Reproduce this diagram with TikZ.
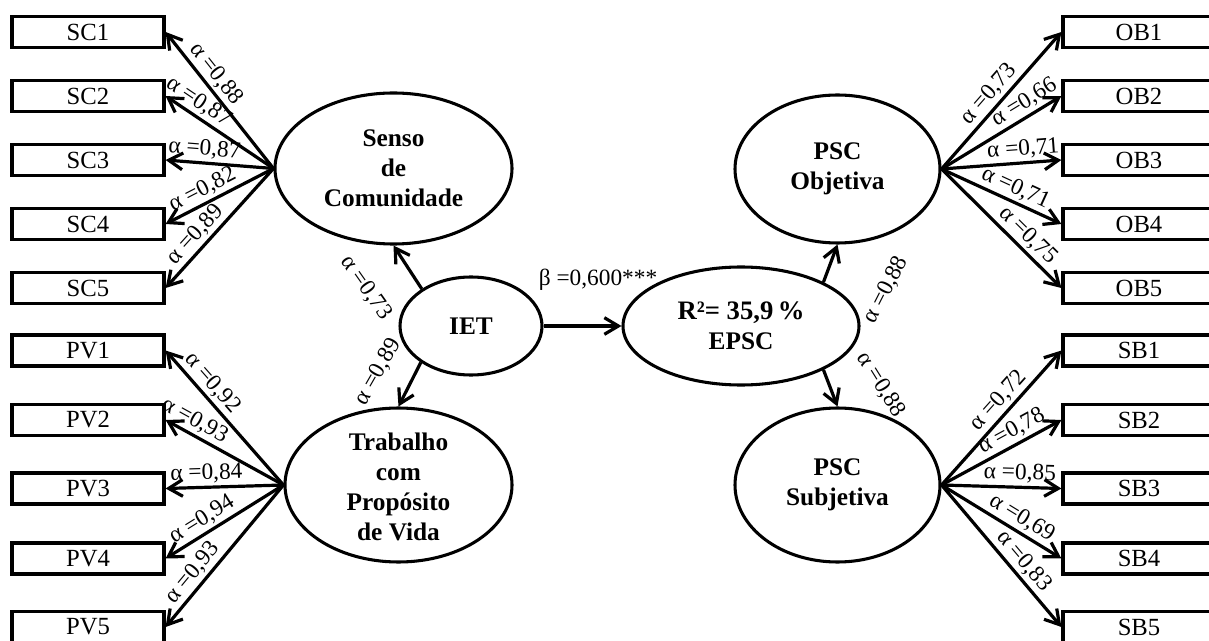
\documentclass[tikz,border=0pt]{standalone}
\usepackage{fontspec}
\setmainfont{Liberation Serif}
\usetikzlibrary{arrows.meta,shapes.geometric}
\begin{document}
\begin{tikzpicture}[x=0.75pt,y=-0.75pt,
  ind/.style={draw, line width=2.4pt, minimum width=114pt, minimum height=23.25pt, inner sep=0pt, font=\fontsize{18.5}{20}\selectfont},
  lat/.style={draw, ellipse, line width=2.3pt, inner sep=0pt, align=center, font=\fontsize{19}{22.5}\selectfont\bfseries},
  lattext/.style={align=center, inner sep=0pt, font=\fontsize{19}{22.5}\selectfont\bfseries},
  arr/.style={line width=2.4pt, -{Straight Barb[length=10.5pt,width=12.5pt]}},
  lbl/.style={font=\fontsize{17.5}{20}\selectfont, sloped, above, inner sep=2pt},
  slbl/.style={font=\fontsize{17.5}{20}\selectfont, inner sep=0pt},
]
\useasboundingbox (0,0) rectangle (1209,641);
\clip (0,0) rectangle (1209,641);

% indicator boxes
\node[ind] (sc1) at (88,32) {SC1};
\node[ind] (sc2) at (88,96) {SC2};
\node[ind] (sc3) at (88,160) {SC3};
\node[ind] (sc4) at (88,224) {SC4};
\node[ind] (sc5) at (88,288) {SC5};
\node[ind] (pv1) at (88,350.5) {PV1};
\node[ind] (pv2) at (88,420) {PV2};
\node[ind] (pv3) at (88,488.5) {PV3};
\node[ind] (pv4) at (88,558.5) {PV4};
\node[ind] (pv5) at (88,627) {PV5};
\node[ind] (ob1) at (1139,32) {OB1};
\node[ind] (ob2) at (1139,96) {OB2};
\node[ind] (ob3) at (1139,160) {OB3};
\node[ind] (ob4) at (1139,224) {OB4};
\node[ind] (ob5) at (1139,288) {OB5};
\node[ind] (sb1) at (1139,350.5) {SB1};
\node[ind] (sb2) at (1139,420) {SB2};
\node[ind] (sb3) at (1139,488.5) {SB3};
\node[ind] (sb4) at (1139,558.5) {SB4};
\node[ind] (sb5) at (1139,627) {SB5};

% latent variables
\node[lat, minimum width=177.75pt, minimum height=113.25pt] (senso) at (393.5,168.5) {Senso\\de\\Comunidade};
\node[lat, minimum width=170.25pt, minimum height=115.5pt] (trab) at (398.5,485) {};
\node[lattext] (trabtext) at (398.5,487) {Trabalho\\com\\Propósito\\de Vida};
\node[lat, minimum width=106.5pt, minimum height=73.5pt] (iet) at (471,326) {IET};
\node[lat, minimum width=177pt, minimum height=88.5pt] (epsc) at (741,326) {{\fontsize{20}{22.5}\selectfont R²= 35,9\,\%}\\EPSC};
\node[lat, minimum width=153.75pt, minimum height=111pt] (psco) at (837.5,169) {PSC\\Objetiva};
\node[lat, minimum width=153.75pt, minimum height=115.5pt] (pscs) at (837.5,485) {PSC\\Subjetiva};

% structural paths
\draw[arr] (iet.143) -- (senso.south);
\draw[arr] (iet.-144) -- (trab.north);
\draw[arr] (iet.east) -- (epsc.west);
\draw[arr] (epsc.28) -- (psco.south);
\draw[arr] (epsc.-28) -- (pscs.north);

\node[slbl, rotate=-55] (l73) at (366,288) {α =0,73};
\node[slbl, rotate=60] (l89) at (378,372) {α =0,89};
\node[slbl] (beta) at (598,280) {β =0,600***};
\node[slbl, rotate=63] (l88a) at (886,290) {α =0,88};
\node[slbl, rotate=-58] (l88b) at (881,385) {α =0,88};

% Senso de Comunidade
\draw[arr] (senso.west) -- (sc1.east) node[lbl,pos=0.63] {α =0,88};
\draw[arr] (senso.west) -- (sc2.east) node[lbl,pos=0.76] {α =0,87};
\draw[arr] (senso.west) -- (sc3.east) node[lbl,pos=0.65] {α =0,87};
\draw[arr] (senso.west) -- (sc4.east) node[lbl,pos=0.60] {α =0,82};
\draw[arr] (senso.west) -- (sc5.east) node[lbl,pos=0.63] {α =0,89};

% Trabalho com Proposito de Vida
\draw[arr] (trab.west) -- (pv1.east) node[lbl,pos=0.69] {α =0,92};
\draw[arr] (trab.west) -- (pv2.east) node[lbl,pos=0.81] {α =0,93};
\draw[arr] (trab.west) -- (pv3.east) node[lbl,pos=0.65] {α =0,84};
\draw[arr] (trab.west) -- (pv4.east) node[lbl,pos=0.63] {α =0,94};
\draw[arr] (trab.west) -- (pv5.east) node[lbl,pos=0.68] {α =0,93};

% PSC Objetiva
\draw[arr] (psco.east) -- (ob1.west) node[lbl,pos=0.48] {α =0,73};
\draw[arr] (psco.east) -- (ob2.west) node[lbl,pos=0.75] {α =0,66};
\draw[arr] (psco.east) -- (ob3.west) node[lbl,pos=0.69] {α =0,71};
\draw[arr] (psco.east) -- (ob4.west) node[lbl,pos=0.57] {α =0,71};
\draw[arr] (psco.east) -- (ob5.west) node[lbl,pos=0.64] {α =0,75};

% PSC Subjetiva
\draw[arr] (pscs.east) -- (sb1.west) node[lbl,pos=0.56] {α =0,72};
\draw[arr] (pscs.east) -- (sb2.west) node[lbl,pos=0.64] {α =0,78};
\draw[arr] (pscs.east) -- (sb3.west) node[lbl,pos=0.65] {α =0,85};
\draw[arr] (pscs.east) -- (sb4.west) node[lbl,pos=0.61] {α =0,69};
\draw[arr] (pscs.east) -- (sb5.west) node[lbl,pos=0.60] {α =0,83};
\end{tikzpicture}
\end{document}
